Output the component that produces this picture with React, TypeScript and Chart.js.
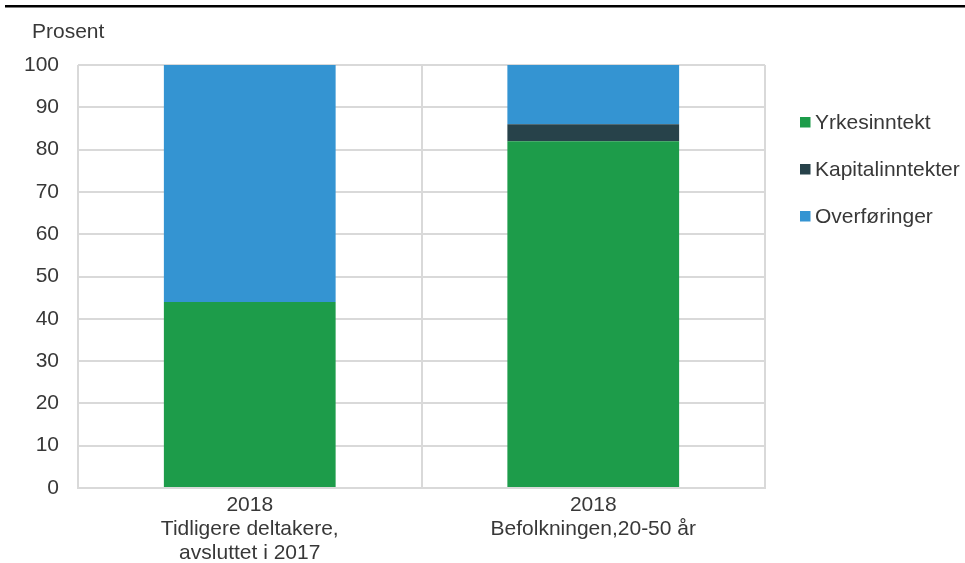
import React, { useEffect, useRef } from "react";
import { Chart, registerables } from "chart.js";

Chart.register(...registerables);

const categories: string[][] = [
  ["2018", "Tidligere deltakere,", "avsluttet i 2017"],
  ["2018", "Befolkningen,20-50 år"],
];
const seriesNames = ["Yrkesinntekt", "Kapitalinntekter", "Overføringer"];
const yrkesinntekt = [44, 82];
const kapitalinntekter = [0, 4];
const overforinger = [56, 14];
const seriesColors = ["#1d9c4a", "#27424a", "#3494d2"];
const yTicks = [0, 10, 20, 30, 40, 50, 60, 70, 80, 90, 100];
const yTitle = "Prosent";

const FONT = "'Liberation Sans', Arial, sans-serif";
const TEXT = "#383838";
const GRID = "#d9d9d9";

const decorPlugin = {
  id: "decor",
  afterDraw(chart: any) {
    const ctx = chart.ctx;
    ctx.save();
    ctx.fillStyle = "#000000";
    ctx.fillRect(5, 5, 960, 2.5);
    ctx.fillStyle = TEXT;
    ctx.font = `21px ${FONT}`;
    ctx.textAlign = "left";
    ctx.textBaseline = "alphabetic";
    ctx.fillText(yTitle, 32, 38);
    const ds = chart.data.datasets;
    ds.forEach((d: any, i: number) => {
      const base = 128.5 + i * 47;
      ctx.fillStyle = d.backgroundColor;
      ctx.fillRect(800, base - 11.5, 10.5, 10.5);
      ctx.fillStyle = TEXT;
      ctx.fillText(d.label, 815, base);
    });
    ctx.restore();
  },
};

export default function App() {
  const ref = useRef<HTMLCanvasElement | null>(null);
  useEffect(() => {
    if (!ref.current) return;
    const values = [yrkesinntekt, kapitalinntekter, overforinger];
    const chart = new Chart(ref.current, {
      type: "bar",
      data: {
        labels: categories,
        datasets: seriesNames.map((name, i) => ({
          label: name,
          data: values[i],
          backgroundColor: seriesColors[i],
          borderWidth: 0,
          barPercentage: 1,
          categoryPercentage: 0.5,
        })),
      },
      options: {
        responsive: false,
        animation: false,
        devicePixelRatio: 1,
        layout: { padding: { left: 0, right: 200, top: 65, bottom: 0 } },
        plugins: {
          legend: { display: false },
          tooltip: { enabled: false },
          title: { display: false },
        },
        scales: {
          x: {
            stacked: true,
            offset: true,
            grid: {
              offset: true,
              color: GRID,
              lineWidth: 2,
              drawTicks: false,
            },
            border: { display: true, color: GRID, width: 2 },
            ticks: {
              color: TEXT,
              font: { family: FONT, size: 21, lineHeight: 1.15 },
              padding: 5,
              maxRotation: 0,
              autoSkip: false,
            },
            afterFit(scale: any) {
              scale.height = 563 - 488;
            },
          },
          y: {
            stacked: true,
            min: 0,
            max: 100,
            afterBuildTicks(scale: any) {
              scale.ticks = yTicks.map((v) => ({ value: v }));
            },
            grid: { color: GRID, lineWidth: 2, drawTicks: false },
            border: { display: false },
            ticks: {
              color: TEXT,
              font: { family: FONT, size: 21 },
              padding: 19,
            },
            afterFit(scale: any) {
              scale.width = 78;
            },
          },
        },
      },
      plugins: [decorPlugin],
    });
    return () => chart.destroy();
  }, []);
  return (
    <div style={{ position: "absolute", left: 0, top: 0, width: 965, height: 563, background: "#fff" }}>
      <canvas ref={ref} width={965} height={563} style={{ display: "block" }} />
    </div>
  );
}
